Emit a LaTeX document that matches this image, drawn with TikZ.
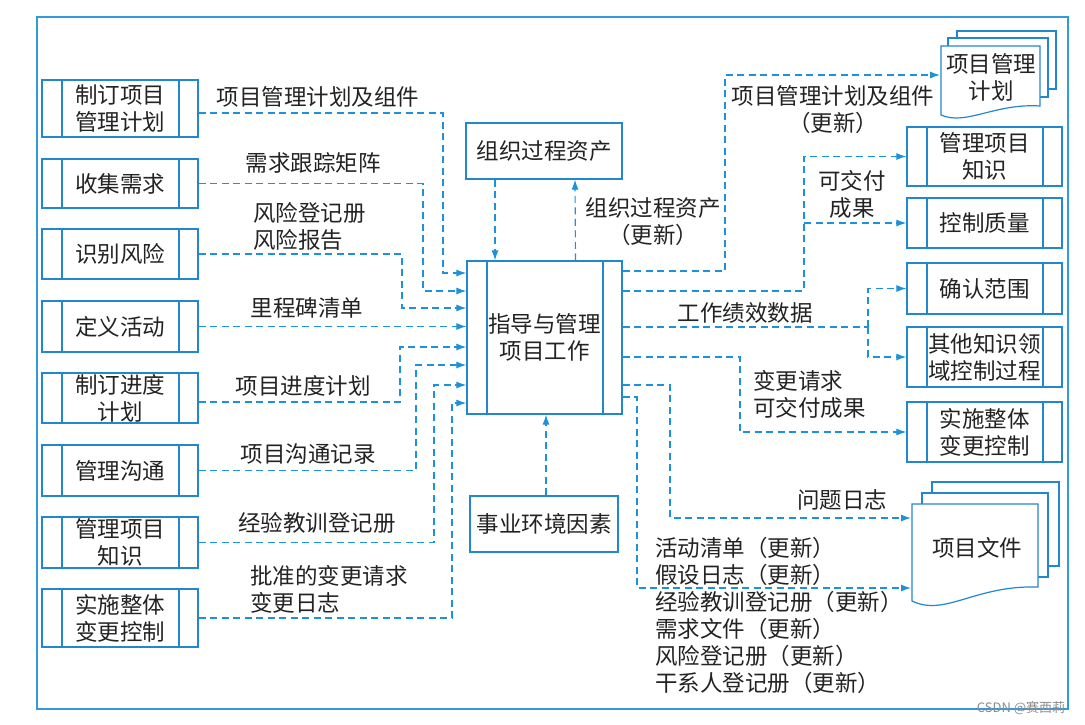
\documentclass[tikz,border=0pt]{standalone}
\usepackage{fontspec}
\setmainfont{Noto Sans CJK SC}
\usetikzlibrary{arrows.meta}
\definecolor{frameblue}{RGB}{50,155,220}
\definecolor{boxblue}{RGB}{35,135,205}
\definecolor{lineblue}{RGB}{30,145,220}
\definecolor{txt}{RGB}{35,35,35}
\newcommand\zh{\fontsize{22.5}{27}\selectfont}
\begin{document}
\begin{tikzpicture}[x=1pt,y=-1pt,
  box/.style={draw=boxblue, line width=1.2pt, inner sep=0pt, align=center, font=\zh, text=txt, fill=white},
  proc/.style={box, path picture={
     \draw[boxblue, line width=1.2pt] ([xshift=20pt]path picture bounding box.north west) -- ([xshift=20pt]path picture bounding box.south west);
     \draw[boxblue, line width=1.2pt] ([xshift=-19pt]path picture bounding box.north east) -- ([xshift=-19pt]path picture bounding box.south east);}},
  conn/.style={draw=lineblue, line width=1.15pt, dash pattern=on 7pt off 4.5pt},
  arr/.style={conn, -{Latex[length=10pt,width=7pt]}},
  lbl/.style={font=\zh, text=txt, inner sep=0pt, align=center},
  page/.style={draw=boxblue, line width=1.2pt, fill=white}]
\useasboundingbox (0,0) rectangle (1085,725);
\fill[white] (0,0) rectangle (1085,725);
\draw[frameblue, line width=1.4pt] (37,17) rectangle (1068,709);

% left process boxes
\node[proc, minimum width=156pt, minimum height=57pt] (b1) at (120,108.5) {制订项目\\管理计划};
\node[proc, minimum width=156pt, minimum height=49pt] (b2) at (120,183.5) {收集需求};
\node[proc, minimum width=156pt, minimum height=50pt] (b3) at (120,254) {识别风险};
\node[proc, minimum width=156pt, minimum height=51pt] (b4) at (120,326.5) {定义活动};
\node[proc, minimum width=156pt, minimum height=50pt] (b5) at (120,398) {制订进度\\计划};
\node[proc, minimum width=156pt, minimum height=51pt] (b6) at (120,470.5) {管理沟通};
\node[proc, minimum width=156pt, minimum height=51pt] (b7) at (120,542.5) {管理项目\\知识};
\node[proc, minimum width=156pt, minimum height=58pt] (b8) at (120,618) {实施整体\\变更控制};

% centre
\node[proc, minimum width=155pt, minimum height=153pt] (dm) at (544.5,337.5) {指导与管理\\项目工作};
\node[box, minimum width=156pt, minimum height=56pt] (opa) at (544,151) {组织过程资产};
\node[box, minimum width=148pt, minimum height=56pt] (eef) at (544,524) {事业环境因素};

% right process boxes
\node[proc, minimum width=155pt, minimum height=59pt] (r1) at (984.5,156.5) {管理项目\\知识};
\node[proc, minimum width=155pt, minimum height=50pt] (r2) at (984.5,223) {控制质量};
\node[proc, minimum width=155pt, minimum height=51pt] (r3) at (984.5,288.5) {确认范围};
\node[proc, minimum width=155pt, minimum height=60pt] (r4) at (984.5,357) {其他知识领\\域控制过程};
\node[proc, minimum width=155pt, minimum height=60pt] (r5) at (984.5,432) {实施整体\\变更控制};

% documents
\draw[page] (957,31) rectangle (1056,89);
\draw[page] (948,38) rectangle (1048,97);
\draw[page] (941,46) -- (941,115) .. controls (966,126) and (995,103) .. (1040,106) -- (1040,46) -- cycle;
\node[lbl] (pmp) at (991,77) {项目管理\\计划};
\coordinate (pmpin) at (940,75);

\draw[page] (932,482) rectangle (1059,566);
\draw[page] (922,493) rectangle (1048,577);
\draw[page] (912,504) -- (912,601) .. controls (945,617) and (975,585) .. (1038,587) -- (1038,504) -- cycle;
\node[lbl] (pd) at (977,548) {项目文件};
\coordinate (pdin1) at (911,518);
\coordinate (pdin2) at (911,588);

% left connectors
\coordinate (k1) at (443,273);
\coordinate (k2) at (423,291);
\coordinate (k3) at (402,308);
\coordinate (k5) at (400,347);
\coordinate (k6) at (416,365);
\coordinate (k7) at (434,385);
\coordinate (k8) at (452,403);
\draw[arr] ([yshift=-4.5pt]b1.east) -| (k1) -- (k1 -| dm.west);
\draw[arr] (b2.east) -| (k2) -- (k2 -| dm.west);
\draw[arr] (b3.east) -| (k3) -- (k3 -| dm.west);
\draw[arr] (b4.east) -- (b4.east -| dm.west);
\draw[arr] ([yshift=-4pt]b5.east) -| (k5) -- (k5 -| dm.west);
\draw[arr] (b6.east) -| (k6) -- (k6 -| dm.west);
\draw[arr] (b7.east) -| (k7) -- (k7 -| dm.west);
\draw[arr] (b8.east) -| (k8) -- (k8 -| dm.west);

% vertical connectors
\draw[arr] ([xshift=-49pt]opa.south) -- ([xshift=-49.5pt]dm.north);
\draw[arr] ([xshift=31pt]dm.north) -- ([xshift=31pt]opa.south);
\draw[arr] ([xshift=2pt]eef.north) -- ([xshift=1.5pt]dm.south);

% right connectors
\coordinate (ko1) at (725,271);
\coordinate (ko1b) at (725,75);
\coordinate (ko2) at (804,291);
\coordinate (ko3) at (868,327);
\coordinate (ko4) at (740,357);
\coordinate (ko5) at (670,385);
\coordinate (ko6) at (637,397);
\draw[arr] (ko1 -| dm.east) -- (ko1) -- (ko1b) -- (pmpin);
\draw[arr] (ko2 -| dm.east) -- (ko2) |- (r1.west);
\draw[arr] (ko2 |- r2.west) -- (r2.west);
\draw[conn] (ko3 -| dm.east) -- (ko3);
\draw[arr] (ko3) |- (r3.west);
\draw[arr] (ko3) |- (r4.west);
\draw[arr] (ko4 -| dm.east) -- (ko4) |- (r5.west);
\draw[arr] (ko5 -| dm.east) -- (ko5) |- (pdin1);
\draw[arr] (ko6 -| dm.east) -- (ko6) |- (pdin2);

% labels
\node[lbl] (l1) at (318,97) {项目管理计划及组件};
\node[lbl] (l2) at (313,163) {需求跟踪矩阵};
\node[lbl, align=left, anchor=west] (l3) at (253,226) {风险登记册\\风险报告};
\node[lbl] (l4) at (307,308) {里程碑清单};
\node[lbl] (l5) at (303,386) {项目进度计划};
\node[lbl] (l6) at (308,454) {项目沟通记录};
\node[lbl] (l7) at (317,523) {经验教训登记册};
\node[lbl, align=left, anchor=west] (l8) at (250,589) {批准的变更请求\\变更日志};
\node[lbl] (lopa) at (653,222) {组织过程资产\\（更新）};
\node[lbl] (lo1) at (833,110) {项目管理计划及组件\\（更新）};
\node[lbl] (lo2) at (852,194) {可交付\\成果};
\node[lbl] (lo3) at (745,313) {工作绩效数据};
\node[lbl, align=left, anchor=west] (lo4) at (753,394.5) {变更请求\\可交付成果};
\node[lbl] (lo5) at (842,500) {问题日志};
\node[lbl, align=left, anchor=west] (lo6) at (655,615.5) {活动清单（更新）\\假设日志（更新）\\经验教训登记册（更新）\\需求文件（更新）\\风险登记册（更新）\\干系人登记册（更新）};
\node[font=\fontsize{13}{15}\selectfont, text=black!45, inner sep=0pt] (wm) at (1021,708) {CSDN @赛西莉};
\end{tikzpicture}
\end{document}
